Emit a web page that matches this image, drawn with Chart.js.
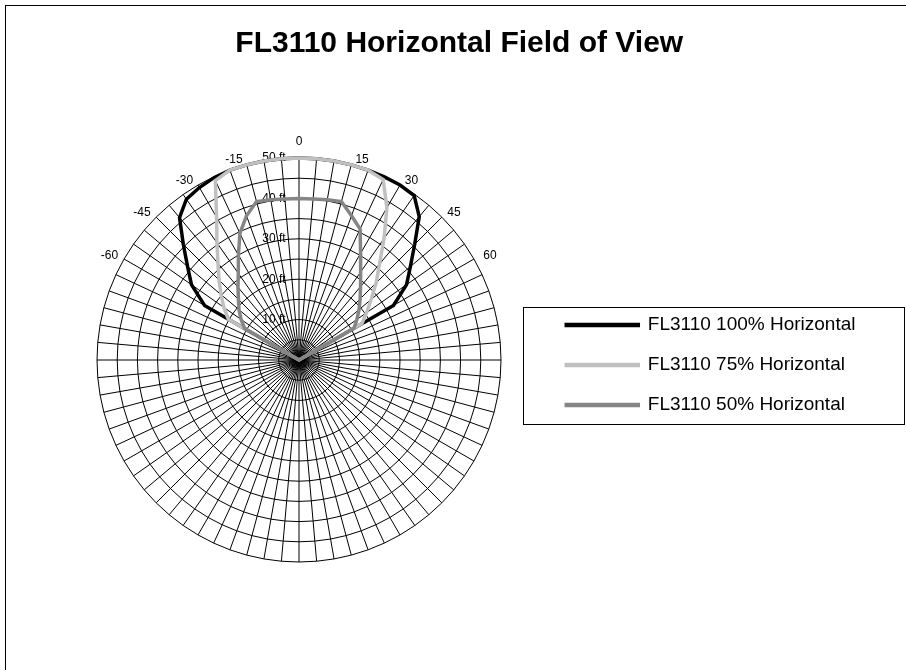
<!DOCTYPE html>
<html>
<head>
<meta charset="utf-8">
<title>FL3110 Horizontal Field of View</title>
<script src="https://cdn.jsdelivr.net/npm/chart.js@4.4.1/dist/chart.umd.min.js"></script>
<style>
  html, body { margin: 0; padding: 0; background: #fff; }
  #frame { position: absolute; left: 5px; top: 5px; width: 1000px; height: 1000px;
           border-left: 1px solid #000; border-top: 1px solid #000; }
  #chart-container { position: absolute; left: 0; top: 0; width: 906px; height: 670px; }
</style>
</head>
<body>
<div id="frame"></div>
<div id="chart-container"><canvas id="fovChart"></canvas></div>
<script>
// spokes every 5 degrees, clockwise from the top
const spokeAngles = [0, 5, 10, 15, 20, 25, 30, 35, 40, 45, 50, 55, 60, 65, 70, 75, 80, 85,
  90, 95, 100, 105, 110, 115, 120, 125, 130, 135, 140, 145, 150, 155, 160, 165, 170, 175,
  180, 185, 190, 195, 200, 205, 210, 215, 220, 225, 230, 235, 240, 245, 250, 255, 260, 265,
  270, 275, 280, 285, 290, 295, 300, 305, 310, 315, 320, 325, 330, 335, 340, 345, 350, 355];
// only these spokes carry a label (spaces nudge them off the spoke like excel does)
const angleLabels = { 0: '0', 15: ' 15', 30: ' 30', 45: ' 45', 60: '  60',
  300: '-60 ', 315: '-45 ', 330: '-30 ', 345: '-15 ' };

// measured range (ft) over the sweep -60..60 deg, 0 everywhere else
const sweepAngles = [-60, -55, -50, -45, -40, -35, -30, -25, -20, -15, -10, -5, 0,
  5, 10, 15, 20, 25, 30, 35, 40, 45, 50, 55, 60];
const fl100 = [27, 32.5, 36, 40.5, 46, 48.6, 49.3, 49.8, 50, 50, 50, 50, 50,
  50, 50, 50, 50, 50, 50, 49.7, 46.3, 40.5, 36, 32.5, 27];
const fl75 = [20.2, 22.7, 25.2, 28, 31.2, 35.4, 40.8, 49, 50, 50, 50, 50, 50,
  50, 50, 50, 50, 49.3, 43.5, 36.7, 31, 27, 23.3, 20.4, 18];
const fl50 = [15.5, 17.5, 19.4, 21.2, 23.5, 26.2, 30, 34.6, 38, 40.6, 40.3, 40, 40,
  40, 40.3, 40.6, 38, 35.8, 30.5, 26.6, 23.7, 21.4, 19.4, 17.5, 15.7];

const seriesNames = ['FL3110 100% Horizontal', 'FL3110 75% Horizontal', 'FL3110 50% Horizontal'];
const seriesColors = ['#000000', '#c0c0c0', '#858585'];
const rangeLabels = { 10: '10 ft', 20: '20 ft', 30: '30 ft', 40: '40 ft', 50: '50 ft' };

function toSpokes(values) {
    return spokeAngles.map(a => {
        const signed = a > 180 ? a - 360 : a;
        const k = sweepAngles.indexOf(signed);
        return k >= 0 ? values[k] : 0;
    });
}

Chart.defaults.font.family = "'Liberation Sans', Arial, sans-serif";
Chart.defaults.color = '#000';

// excel style box around the legend
const legendFrame = {
    id: 'legendFrame',
    afterDraw(chart) {
        const boxes = chart.legend.legendHitBoxes;
        if (!boxes || !boxes.length) return;
        const first = boxes[0];
        const last = boxes[boxes.length - 1];
        const ctx = chart.ctx;
        ctx.save();
        ctx.strokeStyle = '#000';
        ctx.lineWidth = 1;
        const top = Math.round(first.top - 8.5) + 0.5;
        const bottom = Math.round(last.top + last.height + 9.5) + 0.5;
        ctx.strokeRect(Math.round(first.left - 43) + 0.5, top, 381, bottom - top);
        ctx.restore();
    }
};

const datasets = [fl100, fl75, fl50].map((vals, i) => ({
    label: seriesNames[i],
    data: toSpokes(vals),
    borderColor: seriesColors[i],
    backgroundColor: seriesColors[i],
    borderWidth: 3.5,
    pointRadius: 0,
    fill: false,
    tension: 0,
    order: 3 - i   // first series underneath, like excel
}));

const chart = new Chart(document.getElementById('fovChart').getContext('2d'), {
    type: 'radar',
    data: {
        labels: spokeAngles.map(a => angleLabels[a] || ''),
        datasets: datasets
    },
    options: {
        responsive: true,
        maintainAspectRatio: false,
        devicePixelRatio: 1,
        animation: false,
        layout: { padding: { left: 53, right: 40.5, top: 0, bottom: 75 } },
        plugins: {
            title: {
                display: true,
                text: 'FL3110 Horizontal Field of View',
                color: '#000',
                font: { size: 30, weight: 'bold' },
                padding: { top: 26, bottom: 73 }
            },
            legend: {
                position: 'right',
                align: 'center',
                fullSize: false,
                labels: {
                    boxWidth: 72,
                    boxHeight: 1,
                    padding: 21,
                    color: '#000',
                    font: { size: 19 },
                    sort: (a, b) => a.datasetIndex - b.datasetIndex
                }
            },
            tooltip: { enabled: false }
        },
        scales: {
            r: {
                min: 0,
                max: 50,
                beginAtZero: true,
                grid: { color: '#000', lineWidth: 1 },
                angleLines: { color: '#000', lineWidth: 1 },
                ticks: {
                    stepSize: 5,
                    showLabelBackdrop: false,
                    color: '#000',
                    font: { size: 12 },
                    callback: v => rangeLabels[v] ? rangeLabels[v] + ' '.repeat(15) : ''
                },
                pointLabels: {
                    color: '#000',
                    font: { size: 12, lineHeight: '4px' },
                    padding: ctx => ctx.index === 0 ? 6 : (ctx.index === 36 ? 16 : -5)
                }
            }
        }
    },
    plugins: [legendFrame]
});
</script>
</body>
</html>
